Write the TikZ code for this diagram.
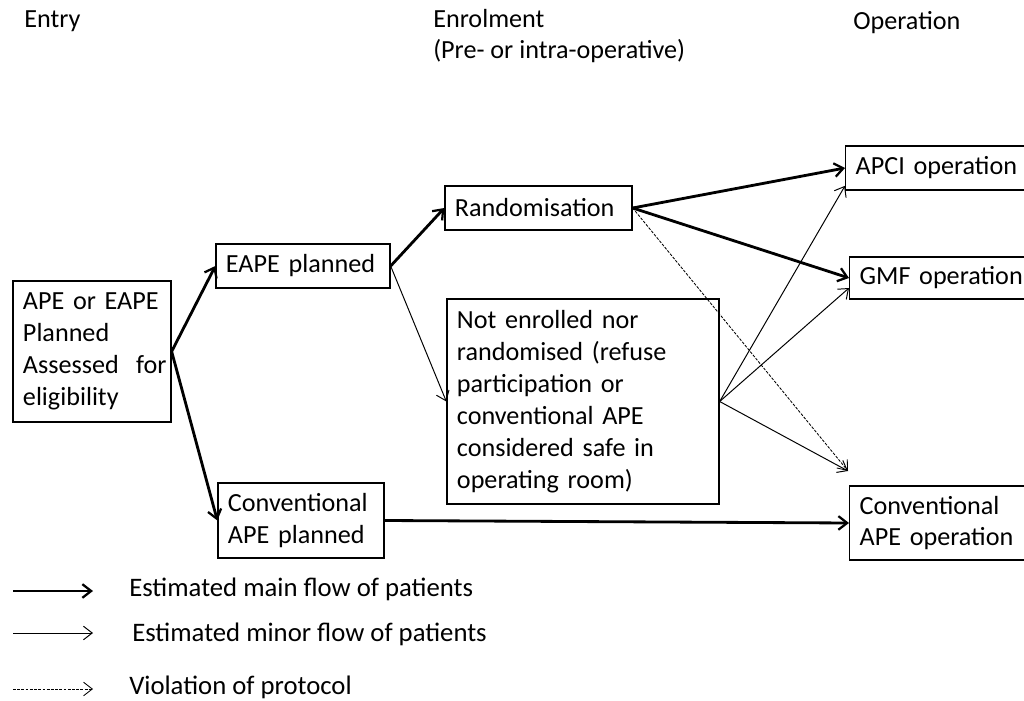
\documentclass[tikz,border=0pt]{standalone}
\usepackage{fontspec}
\setmainfont{Carlito}
\usetikzlibrary{arrows.meta}

\tikzset{
  box/.style={draw, line width=0.9pt, rectangle, align=left, inner xsep=0.25cm, inner ysep=0pt,
    font=\fontsize{18.6}{22.7}\selectfont},
  head/.style={anchor=base west, inner sep=0pt, font=\fontsize{18.6}{22.3}\selectfont, align=left},
  legtext/.style={anchor=west, inner sep=0pt, font=\fontsize{19}{22}\selectfont},
  mainflow/.style={line width=2pt, -{Straight Barb[length=0.22cm, width=0.34cm, line width=1.6pt]}},
  minorflow/.style={line width=0.7pt, -{Straight Barb[length=0.22cm, width=0.34cm]}},
  violation/.style={line width=0.6pt, dash pattern=on 2pt off 1pt, -{Straight Barb[length=0.22cm, width=0.34cm, line width=0.6pt]}}
}

\begin{document}
\begin{tikzpicture}[x=0.025cm, y=-0.025cm]
\useasboundingbox (0,0) rectangle (1024,701);
\clip (0,0) rectangle (1024,701);

\node[head] (entry) at (24,28) {Entry};
\node[head] (enrol) at (433,59) {Enrolment\\(Pre- or intra-operative)};
\node[head] (oper) at (853,30) {Operation};

\node[box, text width=3.45cm, minimum height=3.525cm] (start) at (92,351.5) {APE or EAPE\\Planned\\Assessed~~for\\eligibility};
\node[box, text width=3.85cm, minimum height=1.1cm] (eape) at (303,266) {EAPE planned};
\node[box, text width=3.65cm, minimum height=1.875cm] (conv) at (301,520.5) {Conventional\\APE planned};
\node[box, text width=4.175cm, minimum height=1.1cm] (rand) at (538.5,208) {Randomisation};
\node[box, text width=6.3cm, minimum height=5.125cm] (notenr) at (583,401.5) {Not enrolled nor\\randomised (refuse\\participation or\\conventional APE\\considered safe in\\operating room)};
\node[box, text width=4.5cm, minimum height=1.1cm, anchor=west] (apci) at (845,168) {APCI operation};
\node[box, text width=4.5cm, minimum height=1.05cm, anchor=west] (gmf) at (849,278) {GMF operation};
\node[box, text width=4.5cm, minimum height=1.85cm, anchor=west] (convop) at (849,523) {Conventional\\APE operation};
\coordinate (convtop) at (848,471);

\draw[mainflow] (start.east) -- (eape.west);
\draw[mainflow] (start.east) -- (conv.west);
\draw[mainflow] (eape.east) -- (rand.west);
\draw[minorflow] (eape.east) -- (notenr.west);
\draw[mainflow] (rand.east) -- (apci.west);
\draw[mainflow] (rand.east) -- (gmf.west);
\draw[violation] (rand.east) -- (convtop);
\draw[minorflow] (notenr.east) -- ([yshift=0.12cm]apci.south west);
\draw[minorflow] (notenr.east) -- ([yshift=-0.25cm]gmf.west);
\draw[minorflow] (notenr.east) -- (convtop);
\draw[mainflow] (conv.east) -- (convop.west);

\coordinate (leg1a) at (13,591); \coordinate (leg1b) at (93,591);
\coordinate (leg2a) at (13,633); \coordinate (leg2b) at (93,633);
\coordinate (leg3a) at (13,689); \coordinate (leg3b) at (93,689);
\draw[mainflow] (leg1a) -- (leg1b);
\draw[minorflow] (leg2a) -- (leg2b);
\draw[violation] (leg3a) -- (leg3b);
\node[legtext] (leg1) at (129,589) {Estimated main flow of patients};
\node[legtext] (leg2) at (132,634) {Estimated minor flow of patients};
\node[legtext] (leg3) at (129,687) {Violation of protocol};
\end{tikzpicture}
\end{document}
